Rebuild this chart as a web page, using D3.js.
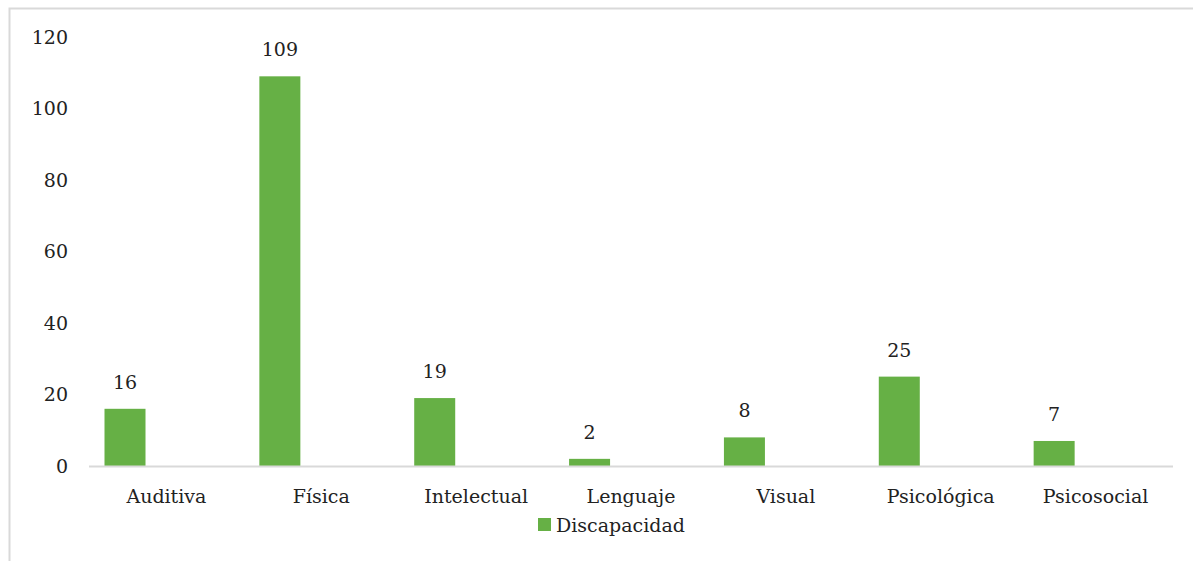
<!DOCTYPE html>
<html><head><meta charset="utf-8">
<script src="https://cdn.jsdelivr.net/npm/d3@7"></script>
<style>body{margin:0;background:#fff}svg{display:block}</style>
</head><body><svg id="c" width="1193" height="561" font-family="'DejaVu Serif', serif"></svg>
<script>
const categories = ["Auditiva","Física","Intelectual","Lenguaje","Visual","Psicológica","Psicosocial"];
const values = [16,109,19,2,8,25,7];
const yTicks = [0,20,40,60,80,100,120];
const seriesName = "Discapacidad";

const svg = d3.select("#c");
const color = "#66b045";
const fs = 19;
const tc = "#222";

svg.append("path").attr("d","M9.5,561 V8.5 H1193").attr("fill","none").attr("stroke","#d9d9d9").attr("stroke-width",2);

const x0 = 89, x1 = 1173, yBase = 466, yTop = 37;
const x = d3.scaleBand().domain(categories).range([x0,x1]);
const y = d3.scaleLinear().domain([0,120]).range([yBase,yTop]);

svg.append("g").selectAll("text").data(yTicks).join("text")
  .attr("x",68).attr("y",d=>y(d)).attr("dy","0.35em").attr("text-anchor","end")
  .attr("font-size",fs).attr("fill",tc).text(d=>d);

const bw = 41, off = 15.5;
svg.append("g").selectAll("rect").data(values).join("rect")
  .attr("x",(d,i)=>x(categories[i])+off).attr("width",bw)
  .attr("y",d=>y(d)).attr("height",d=>yBase-y(d)).attr("fill",color);

svg.append("g").selectAll("text").data(values).join("text")
  .attr("x",(d,i)=>x(categories[i])+off+bw/2).attr("y",d=>y(d)-20)
  .attr("text-anchor","middle").attr("font-size",fs).attr("fill",tc).text(d=>d);

svg.append("line").attr("x1",x0).attr("x2",x1).attr("y1",yBase+0.5).attr("y2",yBase+0.5)
  .attr("stroke","#d9d9d9").attr("stroke-width",2);

svg.append("g").selectAll("text").data(categories).join("text")
  .attr("x",d=>x(d)+x.bandwidth()/2).attr("y",503).attr("text-anchor","middle")
  .attr("font-size",fs).attr("fill",tc).text(d=>d);

svg.append("rect").attr("x",538).attr("y",518).attr("width",13).attr("height",13).attr("fill",color);
svg.append("text").attr("x",556).attr("y",532).attr("font-size",fs).attr("fill",tc).text(seriesName);
</script></body></html>
